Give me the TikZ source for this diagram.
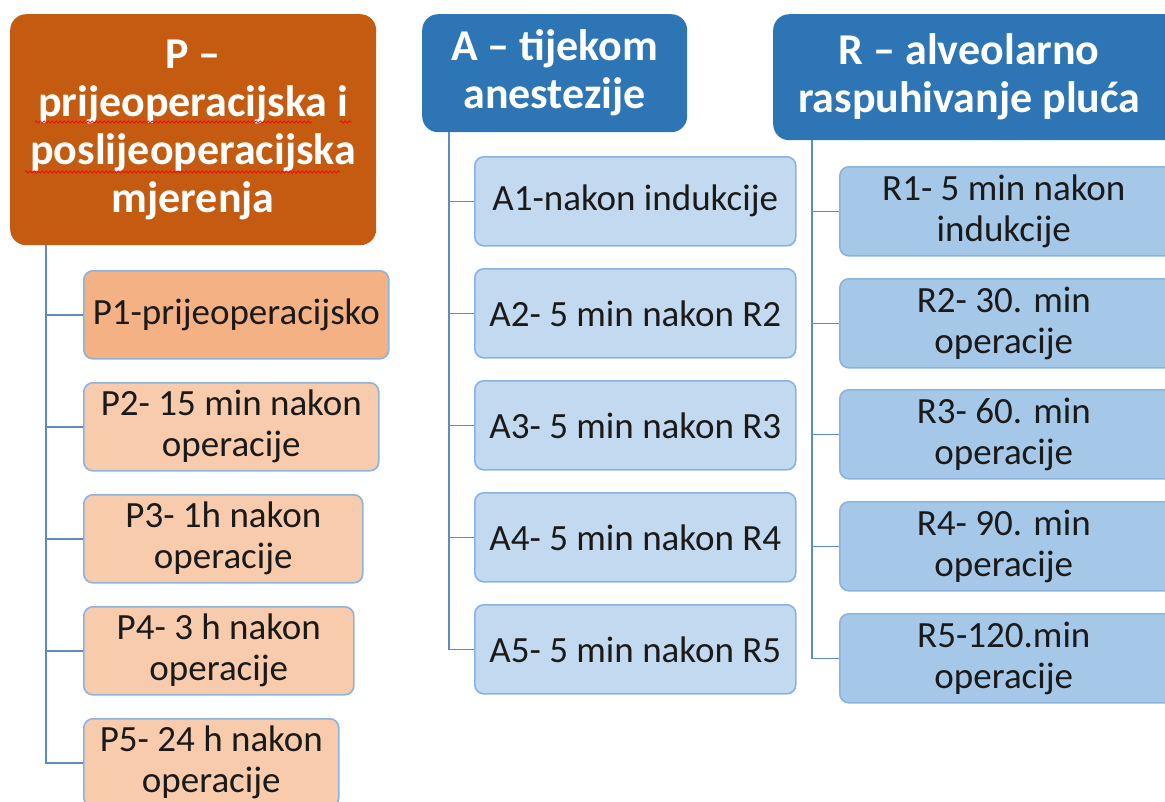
\documentclass[tikz,border=0pt]{standalone}
\usepackage{fontspec}
\setmainfont{Carlito}
\usetikzlibrary{decorations.pathmorphing}
\definecolor{pHead}{HTML}{C55A11}
\definecolor{pOne}{HTML}{F4B183}
\definecolor{pRest}{HTML}{F8CBAD}
\definecolor{bHead}{HTML}{2E75B6}
\definecolor{aFill}{HTML}{C2D9EF}
\definecolor{rFill}{HTML}{A6C8E8}
\definecolor{bordc}{HTML}{8CB3DB}
\definecolor{linec}{HTML}{5B8CC5}
\definecolor{txtc}{HTML}{1A1A1A}
\begin{document}
\begin{tikzpicture}[x=1pt,y=-1pt,
  head/.style={rounded corners=16pt, inner sep=0pt, anchor=north west, align=center,
     text=white, font=\fontsize{44}{48}\selectfont\bfseries},
  child/.style={draw=bordc, line width=1.6pt, rounded corners=9pt, inner sep=0pt,
     anchor=north west, align=center, text=txtc, font=\fontsize{37}{41}\selectfont},
  pbox/.style={child, fill=pRest, minimum height=88pt},
  abox/.style={child, fill=aFill, minimum width=321pt, minimum height=89pt},
  rbox/.style={child, fill=rFill, minimum width=340pt, minimum height=89pt},
  conn/.style={draw=linec, line width=1.6pt},
  squig/.style={draw=red, line width=0.7pt, decorate,
     decoration={snake, segment length=4pt, amplitude=1.1pt}}
]
\useasboundingbox (0,0) rectangle (1165,801);
\clip (0,0) rectangle (1165,801);

% headers
\node[head, fill=pHead, minimum width=366pt, minimum height=231pt] (P) at (10,14)
  {P --\\prijeoperacijska i\\poslijeoperacijska\\mjerenja};
\node[head, fill=bHead, minimum width=265pt, minimum height=118pt] (A) at (422,14)
  {A -- tijekom\\anestezije};
\node[head, fill=bHead, minimum width=420pt, minimum height=126pt] (R) at (773,14)
  {\hspace*{-28pt}R -- alveolarno\\\hspace*{-28pt}raspuhivanje pluća};

% spell-check underlines
\draw[squig] (35,122) -- (312,122);
\draw[squig] (340,122) -- (352,122);
\draw[squig] (25,172) -- (340,172);

% P children
\node[pbox, fill=pOne, minimum width=305pt] (P1) at (83,270) {P1-prijeoperacijsko};
\node[pbox, minimum width=295pt] (P2) at (83,382) {P2- 15 min nakon\\operacije};
\node[pbox, minimum width=279pt] (P3) at (83,494) {P3- 1h nakon\\operacije};
\node[pbox, minimum width=270pt] (P4) at (83,606) {P4- 3 h nakon\\operacije};
\node[pbox, minimum width=255pt] (P5) at (83,718) {P5- 24 h nakon\\operacije};

% A children
\node[abox] (A1) at (474,156) {A1-nakon indukcije};
\node[abox] (A2) at (474,268) {A2- 5 min nakon R2};
\node[abox] (A3) at (474,380) {A3- 5 min nakon R3};
\node[abox] (A4) at (474,492) {A4- 5 min nakon R4};
\node[abox] (A5) at (474,604) {A5- 5 min nakon R5};

% R children
\node[rbox] (R1) at (839,166) {\hspace*{-12pt}R1- 5 min nakon\\\hspace*{-12pt}indukcije};
\node[rbox] (R2) at (839,278) {\hspace*{-12pt}R2- 30. min\\\hspace*{-12pt}operacije};
\node[rbox] (R3) at (839,389) {\hspace*{-12pt}R3- 60. min\\\hspace*{-12pt}operacije};
\node[rbox] (R4) at (839,501) {\hspace*{-12pt}R4- 90. min\\\hspace*{-12pt}operacije};
\node[rbox] (R5) at (839,613) {\hspace*{-12pt}R5-120.min\\\hspace*{-12pt}operacije};

% connectors
\coordinate (pt) at ([xshift=36pt]P.south west);
\foreach \c in {P1,P2,P3,P4,P5} \draw[conn] (pt) |- (\c.west);
\coordinate (at) at ([xshift=27pt]A.south west);
\foreach \c in {A1,A2,A3,A4,A5} \draw[conn] (at) |- (\c.west);
\coordinate (rt) at ([xshift=39pt]R.south west);
\foreach \c in {R1,R2,R3,R4,R5} \draw[conn] (rt) |- (\c.west);
\end{tikzpicture}
\end{document}
